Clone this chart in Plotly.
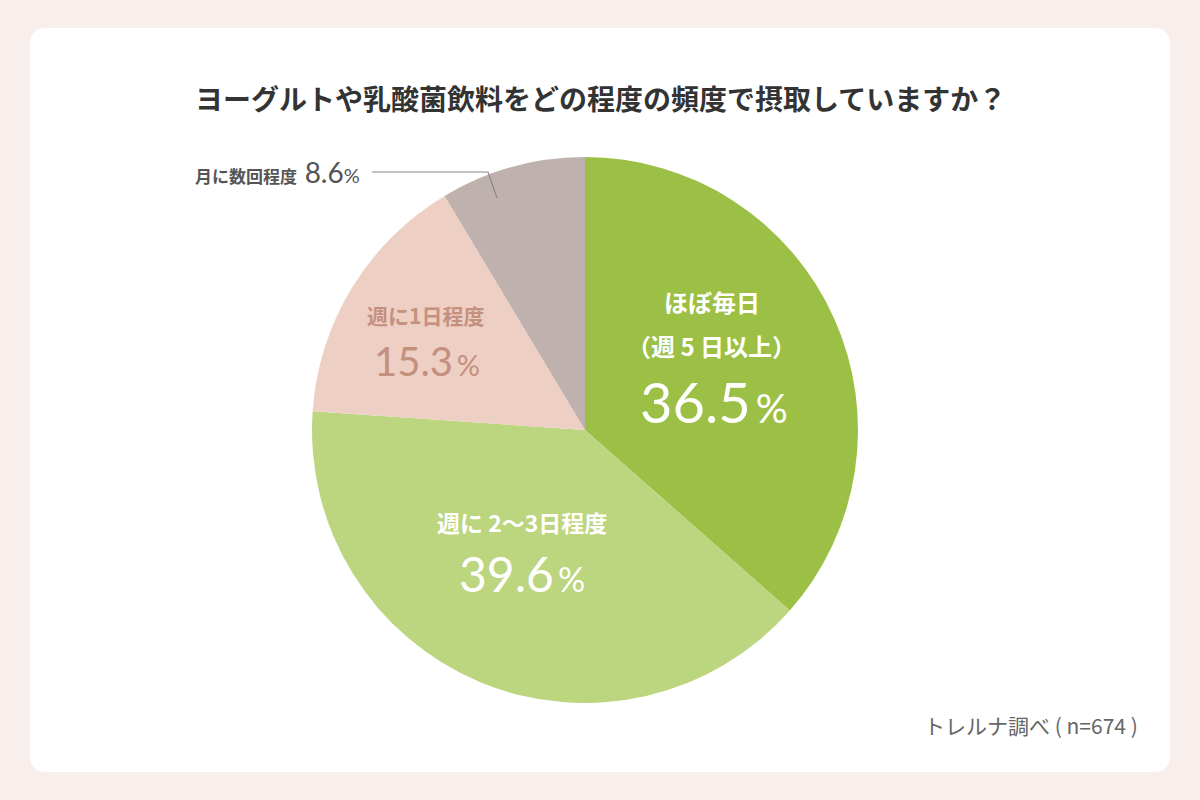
import plotly.graph_objects as go

categories = ["ほぼ毎日（週5日以上）", "週に2～3日程度", "週に1日程度", "月に数回程度"]
values = [36.5, 39.6, 15.3, 8.6]
colors = ["#9cc045", "#bcd57f", "#eecfc3", "#bfb1ae"]
title_text = "ヨーグルトや乳酸菌飲料をどの程度の頻度で摂取していますか？"
source_text = "トレルナ調べ ( n=674 )"

W, H = 1200, 800
JP = "Noto Sans CJK JP"
NUM = "Lato"

fig = go.Figure()
fig.add_trace(go.Pie(
    labels=categories, values=values, sort=False, direction="clockwise",
    rotation=0, marker=dict(colors=colors, line=dict(width=0)),
    textinfo="none", hoverinfo="label+percent", showlegend=False,
    domain=dict(x=[(585 - 273) / W, (585 + 273) / W], y=[(800 - 703) / H, (800 - 157) / H]),
))

def px(x, y):
    return x / W, 1 - y / H

anns = []
def add(x, y, text, size, color, family=JP, xanchor="center"):
    ax, ay = px(x, y)
    anns.append(dict(x=ax, y=ay, xref="paper", yref="paper", text=text, showarrow=False,
                     xanchor=xanchor, yanchor="middle",
                     font=dict(family=family, size=size, color=color)))

def pct(v, size):
    return f"{v}<span style='font-size:{size}px'>\u2009%</span>"

add(600, 98, "<b>" + title_text + "</b>", 28, "#333333")
# slice 1
add(712, 302, "<b>ほぼ毎日</b>", 24, "#ffffff")
add(711, 345, "<b>（週 5 日以上）</b>", 24, "#ffffff")
add(714, 402, pct(values[0], 40), 56, "#ffffff", NUM)
# slice 2
add(522, 522, "<b>週に 2～3日程度</b>", 23, "#ffffff")
add(522, 573, pct(values[1], 34), 48, "#ffffff", NUM)
# slice 3
add(425, 315, "<b>週に1日程度</b>", 21, "#c4907f")
add(427, 361, pct(values[2], 29), 40, "#c4907f", NUM)
# slice 4 (outside)
add(193, 172, "<b>月に数回程度</b>  <span style='font-family:Lato;font-size:28px'>" + f"{values[3]}" + "<span style='font-size:20px'>%</span></span>", 17, "#555555", JP, xanchor="left")
# source
add(1140, 725, source_text, 21, "#666666", JP, xanchor="right")

# rounded card
x0, y0, x1, y1, r = 30, 28, 1170, 772, 16
path = (f"M{x0+r},{y0} L{x1-r},{y0} Q{x1},{y0} {x1},{y0+r} L{x1},{y1-r} Q{x1},{y1} {x1-r},{y1} "
        f"L{x0+r},{y1} Q{x0},{y1} {x0},{y1-r} L{x0},{y0+r} Q{x0},{y0} {x0+r},{y0} Z")

shapes = [
    dict(type="path", xref="x", yref="y", path=path, fillcolor="#ffffff", line=dict(width=0), layer="below"),
    dict(type="path", xref="x", yref="y", path="M372,172 L488,172 L497,198", line=dict(color="#888888", width=1.2), layer="above"),
]

fig.update_layout(
    width=W, height=H, margin=dict(l=0, r=0, t=0, b=0),
    paper_bgcolor="#f8eeeb", plot_bgcolor="rgba(0,0,0,0)",
    xaxis=dict(range=[0, W], visible=False, fixedrange=True),
    yaxis=dict(range=[H, 0], visible=False, fixedrange=True),
    annotations=anns, shapes=shapes,
)
fig.write_html("out.html")
